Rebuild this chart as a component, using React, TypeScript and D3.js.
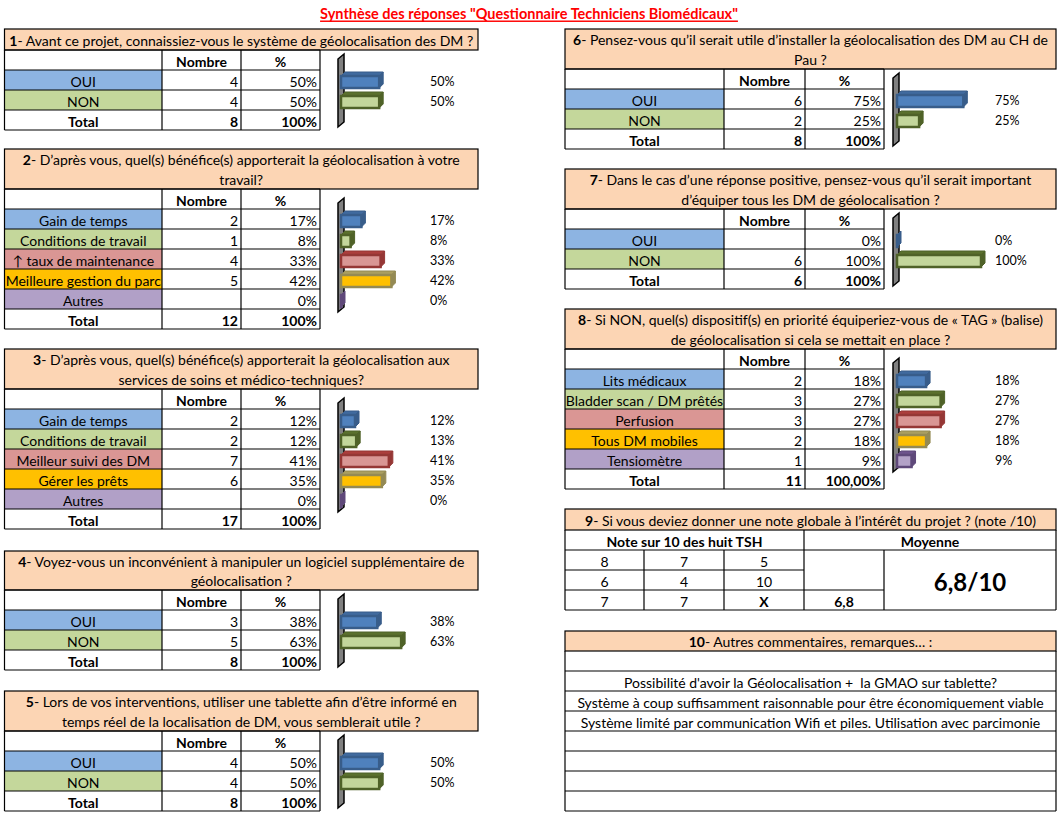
import { useEffect, useRef } from 'react';
import * as d3 from 'd3';

// ---- data ----
const title = 'Synthèse des réponses "Questionnaire Techniciens Biomédicaux"';

const q1Header = ['Avant ce projet, connaissiez-vous le système de géolocalisation des DM ?'];
const q1Categories = ['OUI', 'NON'];
const q1Counts = ['4', '4'];
const q1Percents = ['50%', '50%'];
const q1ChartValues = [50, 50];
const q1Total = ['8', '100%'];

const q2Header = ['D’après vous, quel(s) bénéfice(s) apporterait la géolocalisation à votre', 'travail?'];
const q2Categories = ['Gain de temps', 'Conditions de travail', '↑ taux de maintenance', 'Meilleure gestion du parc', 'Autres'];
const q2Counts = ['2', '1', '4', '5', ''];
const q2Percents = ['17%', '8%', '33%', '42%', '0%'];
const q2ChartValues = [17, 8, 33, 42, 0];
const q2Total = ['12', '100%'];

const q3Header = ['D’après vous, quel(s) bénéfice(s) apporterait la géolocalisation aux', 'services de soins et médico-techniques?'];
const q3Categories = ['Gain de temps', 'Conditions de travail', 'Meilleur suivi des DM', 'Gérer les prêts', 'Autres'];
const q3Counts = ['2', '2', '7', '6', ''];
const q3Percents = ['12%', '12%', '41%', '35%', '0%'];
const q3ChartValues = [12, 13, 41, 35, 0];
const q3Total = ['17', '100%'];

const q4Header = ['Voyez-vous un inconvénient à manipuler un logiciel supplémentaire de', 'géolocalisation ?'];
const q4Categories = ['OUI', 'NON'];
const q4Counts = ['3', '5'];
const q4Percents = ['38%', '63%'];
const q4ChartValues = [38, 63];
const q4Total = ['8', '100%'];

const q5Header = ['Lors de vos interventions, utiliser une tablette afin d’être informé en', 'temps réel de la localisation de DM, vous semblerait utile ?'];
const q5Categories = ['OUI', 'NON'];
const q5Counts = ['4', '4'];
const q5Percents = ['50%', '50%'];
const q5ChartValues = [50, 50];
const q5Total = ['8', '100%'];

const q6Header = ['Pensez-vous qu’il serait utile d’installer la géolocalisation des DM au CH de', 'Pau ?'];
const q6Categories = ['OUI', 'NON'];
const q6Counts = ['6', '2'];
const q6Percents = ['75%', '25%'];
const q6ChartValues = [75, 25];
const q6Total = ['8', '100%'];

const q7Header = ['Dans le cas d’une réponse positive, pensez-vous qu’il serait important', 'd’équiper tous les DM de géolocalisation ?'];
const q7Categories = ['OUI', 'NON'];
const q7Counts = ['', '6'];
const q7Percents = ['0%', '100%'];
const q7ChartValues = [0, 100];
const q7Total = ['6', '100%'];

const q8Header = ['Si NON, quel(s) dispositif(s) en priorité équiperiez-vous de « TAG » (balise)', 'de géolocalisation si cela se mettait en place ?'];
const q8Categories = ['Lits médicaux', 'Bladder scan / DM prêtés', 'Perfusion', 'Tous DM mobiles', 'Tensiomètre'];
const q8Counts = ['2', '3', '3', '2', '1'];
const q8Percents = ['18%', '27%', '27%', '18%', '9%'];
const q8ChartValues = [18, 27, 27, 18, 9];
const q8Total = ['11', '100,00%'];

const q9Header = 'Si vous deviez donner une note globale à l’intérêt du projet ? (note /10)';
const q9Grades = [['8', '7', '5'], ['6', '4', '10'], ['7', '7', 'X']];
const q9Mean = '6,8';
const q9MeanLabel = '6,8/10';

const q10Header = 'Autres commentaires, remarques… :';
const q10Comments = [
  '',
  "Possibilité d'avoir la Géolocalisation +  la GMAO sur tablette?",
  'Système à coup suffisamment raisonnable pour être économiquement viable',
  'Système limité par communication Wifi et piles. Utilisation avec parcimonie',
  '', '', '', ''
];

// ---- styles ----
const FONT = 'Lato, "Open Sans", sans-serif';
const HEADER_FILL = '#fcd5b4';
const CELL_FILLS = ['#8db4e2', '#c4d79b', '#da9694', '#ffc000', '#b1a0c7'];
const BAR_FILLS = ['#4f81bd', '#c3d69b', '#d99694', '#ffc000', '#b3a2c7'];
const BAR_DARK = ['#385d8a', '#4f6228', '#953735', '#948a54', '#5f497a'];
const ROW = 20;

const columns = {
  L: { x0: 4.5, right: 478, edges: [4.5, 162, 241, 320], wallX: 338, barX: 341, labelX: 430 },
  R: { x0: 565, right: 1056, edges: [565, 724, 805, 884], wallX: 893, barX: 897, labelX: 995 }
};

const panels = [
  { n: 1, col: 'L', top: 29, headerH: 21, header: q1Header, cats: q1Categories, counts: q1Counts, pcts: q1Percents, chart: q1ChartValues, total: q1Total, axisMax: 110 },
  { n: 2, col: 'L', top: 149, headerH: 40, header: q2Header, cats: q2Categories, counts: q2Counts, pcts: q2Percents, chart: q2ChartValues, total: q2Total, axisMax: 70 },
  { n: 3, col: 'L', top: 349, headerH: 40, header: q3Header, cats: q3Categories, counts: q3Counts, pcts: q3Percents, chart: q3ChartValues, total: q3Total, axisMax: 72 },
  { n: 4, col: 'L', top: 551, headerH: 39, header: q4Header, cats: q4Categories, counts: q4Counts, pcts: q4Percents, chart: q4ChartValues, total: q4Total, axisMax: 88 },
  { n: 5, col: 'L', top: 691, headerH: 40, header: q5Header, cats: q5Categories, counts: q5Counts, pcts: q5Percents, chart: q5ChartValues, total: q5Total, axisMax: 110 },
  { n: 6, col: 'R', top: 29, headerH: 40, header: q6Header, cats: q6Categories, counts: q6Counts, pcts: q6Percents, chart: q6ChartValues, total: q6Total, axisMax: 95 },
  { n: 7, col: 'R', top: 169, headerH: 40, header: q7Header, cats: q7Categories, counts: q7Counts, pcts: q7Percents, chart: q7ChartValues, total: q7Total, axisMax: 100 },
  { n: 8, col: 'R', top: 309, headerH: 40, header: q8Header, cats: q8Categories, counts: q8Counts, pcts: q8Percents, chart: q8ChartValues, total: q8Total, axisMax: 52 }
];

const App = () => {
  const ref = useRef<SVGSVGElement>(null);

  useEffect(() => {
    document.body.style.margin = '0';
    const svg = d3.select(ref.current);
    svg.selectAll('*').remove();

    const line = (g, x1, y1, x2, y2) =>
      g.append('line').attr('x1', x1).attr('y1', y1).attr('x2', x2).attr('y2', y2)
        .attr('stroke', '#000').attr('stroke-width', 1.2);

    const txt = (g, x, y, s, anchor = 'middle', size = 14, bold = false) =>
      g.append('text').attr('x', x).attr('y', y).attr('text-anchor', anchor)
        .attr('dominant-baseline', 'central')
        .style('font-size', `${size}px`).style('font-weight', bold ? 'bold' : 'normal')
        .style('white-space', 'pre')
        .text(s);

    // Title
    svg.append('text')
      .attr('x', 529).attr('y', 13)
      .attr('text-anchor', 'middle').attr('dominant-baseline', 'central')
      .style('font-size', '14.5px').style('font-weight', 'bold')
      .style('fill', '#ff0000').style('text-decoration', 'underline')
      .text(title);

    const headerBox = (g, x0, right, top, h, num, lines) => {
      g.append('rect').attr('x', x0).attr('y', top).attr('width', right - x0).attr('height', h)
        .attr('fill', HEADER_FILL).attr('stroke', '#000').attr('stroke-width', 1.2);
      const cx = (x0 + right) / 2;
      const step = lines.length > 1 ? 20 : 0;
      const y0 = top + h / 2 - (step * (lines.length - 1)) / 2;
      lines.forEach((l, i) => {
        const t = g.append('text').attr('x', cx).attr('y', y0 + i * step)
          .attr('text-anchor', 'middle').attr('dominant-baseline', 'central')
          .style('font-size', '14px');
        if (i === 0) {
          t.append('tspan').style('font-weight', 'bold').text(String(num));
          t.append('tspan').text(`- ${l}`);
        } else {
          t.text(l);
        }
      });
    };

    const drawBar = (g, x, cy, w, i) => {
      const h = 12;
      const d = 4;
      const y = cy - h / 2 + 1;
      const dark = BAR_DARK[i];
      g.append('polygon')
        .attr('points', [[x, y], [x + d, y - d], [x + w + d, y - d], [x + w, y]].map(p => p.join(',')).join(' '))
        .attr('fill', d3.color(dark).brighter(0.4).formatHex()).attr('stroke', dark).attr('stroke-width', 1);
      g.append('polygon')
        .attr('points', [[x + w, y], [x + w + d, y - d], [x + w + d, y + h - d], [x + w, y + h]].map(p => p.join(',')).join(' '))
        .attr('fill', dark).attr('stroke', dark).attr('stroke-width', 1);
      g.append('rect').attr('x', x).attr('y', y).attr('width', Math.max(w, 0.5)).attr('height', h)
        .attr('fill', BAR_FILLS[i]).attr('stroke', dark).attr('stroke-width', 2.5);
    };

    panels.forEach(p => {
      const c = columns[p.col];
      const g = svg.append('g');
      headerBox(g, c.x0, c.right, p.top, p.headerH, p.n, p.header);

      const y0 = p.top + p.headerH;
      const n = p.cats.length;
      const rows = d3.scaleBand().domain(d3.range(n + 2).map(String)).range([y0, y0 + (n + 2) * ROW]);
      const [e0, e1, e2, e3] = c.edges;
      const yEnd = y0 + (n + 2) * ROW;

      // label cell fills
      p.cats.forEach((cat, i) => {
        g.append('rect').attr('x', e0).attr('y', rows(String(i + 1))).attr('width', e1 - e0).attr('height', ROW)
          .attr('fill', CELL_FILLS[i]);
      });

      // grid
      d3.range(n + 3).forEach(k => line(g, e0, y0 + k * ROW, e3, y0 + k * ROW));
      c.edges.forEach(x => line(g, x, y0, x, yEnd));

      // header row
      txt(g, (e1 + e2) / 2, rows('0') + ROW / 2 + 1, 'Nombre', 'middle', 14, true);
      txt(g, (e2 + e3) / 2, rows('0') + ROW / 2 + 1, '%', 'middle', 14, true);

      // rows
      p.cats.forEach((cat, i) => {
        const ry = rows(String(i + 1)) + ROW / 2 + 1;
        const clipId = `clip-${p.n}-${i}`;
        g.append('clipPath').attr('id', clipId).append('rect')
          .attr('x', e0 + 1).attr('y', rows(String(i + 1))).attr('width', e1 - e0 - 2).attr('height', ROW);
        txt(g, (e0 + e1) / 2, ry, cat).attr('clip-path', `url(#${clipId})`);
        txt(g, e2 - 3, ry, p.counts[i], 'end');
        txt(g, e3 - 3, ry, p.pcts[i], 'end');
      });
      const ty = rows(String(n + 1)) + ROW / 2 + 1;
      txt(g, (e0 + e1) / 2, ty, 'Total', 'middle', 14, true);
      txt(g, e2 - 3, ty, p.total[0], 'end', 14, true);
      txt(g, e3 - 3, ty, p.total[1], 'end', 14, true);

      // chart: wall
      const pad = n === 2 ? [4, 3] : [9, 17];
      const wt = y0 + pad[0];
      const wb = yEnd - pad[1];
      const wx = c.wallX;
      g.append('polygon')
        .attr('points', [[wx, wt + 5], [wx + 6, wt], [wx + 6, wb - 5], [wx, wb]].map(q => q.join(',')).join(' '))
        .attr('fill', '#808080').attr('stroke', '#000').attr('stroke-width', 1.5);

      const band = d3.scaleBand().domain(p.cats).range([y0 + ROW, y0 + ROW * (n + 1)]);
      const xs = d3.scaleLinear().domain([0, p.axisMax]).range([0, 84]);
      p.cats.forEach((cat, i) => {
        const cy = band(cat) + band.bandwidth() / 2 + 1;
        drawBar(g, c.barX, cy, xs(p.chart[i]), i);
        txt(g, c.labelX, cy, `${p.chart[i]}%`, 'start', 12.5);
      });
    });

    // Q9
    {
      const g = svg.append('g');
      const c = columns.R;
      headerBox(g, c.x0, c.right, 509, 21, 9, [q9Header]);
      const xe = [565, 644, 724, 804, 884, 1056];
      const ys = [530, 550, 570, 590, 610];
      line(g, xe[0], ys[1], xe[5], ys[1]);
      line(g, xe[0], ys[2], xe[3], ys[2]);
      line(g, xe[0], ys[3], xe[4], ys[3]);
      line(g, xe[0], ys[4], xe[5], ys[4]);
      [xe[0], xe[3], xe[5]].forEach(x => line(g, x, ys[0], x, ys[4]));
      [xe[1], xe[2], xe[4]].forEach(x => line(g, x, ys[1], x, ys[4]));
      txt(g, (xe[0] + xe[3]) / 2, 541, 'Note sur 10 des huit TSH', 'middle', 14, true);
      txt(g, (xe[3] + xe[5]) / 2, 541, 'Moyenne', 'middle', 14, true);
      q9Grades.forEach((row, r) => row.forEach((v, k) => {
        txt(g, (xe[k] + xe[k + 1]) / 2, ys[r + 1] + 11, v, 'middle', 14, v === 'X');
      }));
      txt(g, (xe[3] + xe[4]) / 2, ys[3] + 11, q9Mean, 'middle', 14, true);
      txt(g, (xe[4] + xe[5]) / 2, 581, q9MeanLabel, 'middle', 24, true);
    }

    // Q10
    {
      const g = svg.append('g');
      const c = columns.R;
      headerBox(g, c.x0, c.right, 631, 20, 10, [q10Header]);
      const top = 651;
      const rows = d3.scaleBand().domain(d3.range(q10Comments.length).map(String))
        .range([top, top + q10Comments.length * ROW]);
      q10Comments.forEach((s, i) => {
        line(g, c.x0, rows(String(i)) + ROW, c.right, rows(String(i)) + ROW);
        txt(g, (c.x0 + c.right) / 2, rows(String(i)) + ROW / 2 + 1, s);
      });
      line(g, c.x0, top, c.x0, top + q10Comments.length * ROW);
      line(g, c.right, top, c.right, top + q10Comments.length * ROW);
    }
  }, []);

  return (
    <svg ref={ref} width={1060} height={814}
      style={{ display: 'block', background: '#fff', fontFamily: FONT }} />
  );
};

export default App;
